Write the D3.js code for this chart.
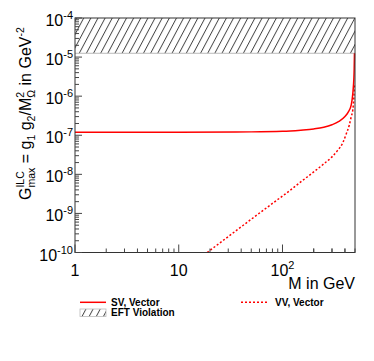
<!DOCTYPE html>
<html><head><meta charset="utf-8">
<script src="https://cdn.jsdelivr.net/npm/d3@7"></script>
<style>body{margin:0;background:#fff}svg{display:block}text{font-family:"Liberation Sans",Arial,Helvetica,sans-serif;white-space:pre}</style>
</head><body>
<script>
// ---- data ----
const svMass = [1, 10, 50, 100, 150, 200, 250, 300, 350, 400, 430, 460, 470, 478, 484, 488, 491, 494];
const svG    = [1.2e-7, 1.2e-7, 1.22e-7, 1.26e-7, 1.35e-7, 1.45e-7, 1.6e-7, 1.85e-7, 2.25e-7, 3.0e-7, 3.9e-7, 6.0e-7, 8.5e-7, 1.3e-6, 2.0e-6, 3.0e-6, 5.0e-6, 1.25e-5];
const vvMass = [18.8, 30, 50, 80, 120, 150, 200, 250, 300, 340, 380, 410, 440, 460, 477, 487, 494];
const vvG    = [1e-10, 2.55e-10, 7.1e-10, 1.8e-9, 4.0e-9, 6.4e-9, 1.15e-8, 1.85e-8, 2.8e-8, 4.1e-8, 6.3e-8, 1.05e-7, 1.8e-7, 3.0e-7, 4.6e-7, 9e-7, 2.1e-6];
const eftBand = [1.25e-5, 1e-4];
const xTickLabels = [{v:1, base:"1", sup:""}, {v:10, base:"10", sup:""}, {v:100, base:"10", sup:"2"}];
const yTickExps = [-4, -5, -6, -7, -8, -9, -10];
const legendLabels = ["SV, Vector", "VV, Vector", "EFT Violation"];

const W = 374, H = 361;
const svg = d3.select("body").append("svg").attr("width", W).attr("height", H);
const L = 75, R = 355, T = 18, B = 252.5;
const x = d3.scaleLog().domain([1, 500]).range([L, R]);
const y = d3.scaleLog().domain([1e-10, 1e-4]).range([B, T]);

// hatch pattern
const defs = svg.append("defs");
const pat = defs.append("pattern").attr("id", "hatch").attr("patternUnits", "userSpaceOnUse")
  .attr("width", 6.3).attr("height", 8).attr("patternTransform", "rotate(28)");
pat.append("line").attr("x1", 0.5).attr("y1", -1).attr("x2", 0.5).attr("y2", 9)
  .attr("stroke", "#333").attr("stroke-width", 0.9);

// EFT band
svg.append("rect").attr("x", L).attr("y", y(eftBand[1])).attr("width", R - L)
  .attr("height", y(eftBand[0]) - y(eftBand[1])).attr("fill", "url(#hatch)");
svg.append("line").attr("x1", L).attr("x2", R).attr("y1", y(eftBand[0])).attr("y2", y(eftBand[0]))
  .attr("stroke", "#bbb").attr("stroke-width", 1);

// curves
const line = d3.line().x(d => x(d[0])).y(d => y(d[1])).curve(d3.curveMonotoneX);
const g = svg.append("g");
g.append("path").attr("d", line(svMass.map((m, i) => [m, svG[i]])))
  .attr("fill", "none").attr("stroke", "#ff0000").attr("stroke-width", 1.5);
g.append("path").attr("d", line(vvMass.map((m, i) => [m, vvG[i]])))
  .attr("fill", "none").attr("stroke", "#ff0000").attr("stroke-width", 1.5).attr("stroke-dasharray", "2,2");

// frame
svg.append("rect").attr("x", L).attr("y", T).attr("width", R - L).attr("height", B - T)
  .attr("fill", "none").attr("stroke", "#333").attr("stroke-width", 1);

// x ticks (inside)
const xt = [];
for (let d = 1; d <= 100; d *= 10) for (let k = 1; k <= 9; k++) { const v = d * k; if (v <= 500) xt.push(v); }
xt.push(200, 300, 400);
svg.append("g").selectAll("line").data(xt).join("line")
  .attr("x1", d => x(d)).attr("x2", d => x(d))
  .attr("y1", B).attr("y2", d => B - ([1, 10, 100].includes(d) ? 8 : 4))
  .attr("stroke", "#444").attr("stroke-width", 1);
// y ticks (inside)
const yt = [];
for (let e = -10; e < -4; e++) for (let k = 1; k <= 9; k++) yt.push(k * Math.pow(10, e));
yt.push(1e-4);
svg.append("g").selectAll("line").data(yt).join("line")
  .attr("y1", d => y(d)).attr("y2", d => y(d))
  .attr("x1", L).attr("x2", d => L + (Math.abs(Math.log10(d) - Math.round(Math.log10(d))) < 1e-9 ? 7 : 4))
  .attr("stroke", "#444").attr("stroke-width", 1);

// y tick labels
yTickExps.forEach(e => {
  const t = svg.append("text").attr("x", 73).attr("y", y(Math.pow(10, e)) + 8)
    .attr("text-anchor", "end").attr("font-size", 16).attr("fill", "#000");
  t.append("tspan").text("10");
  t.append("tspan").attr("font-size", 11).attr("dy", -7).text(String(e));
});
// x tick labels
xTickLabels.forEach(d => {
  const t = svg.append("text").attr("x", x(d.v)).attr("y", 276)
    .attr("text-anchor", "middle").attr("font-size", 16).attr("fill", "#000");
  t.append("tspan").text(d.base);
  if (d.sup) t.append("tspan").attr("font-size", 11).attr("dy", -7).text(d.sup);
});
svg.append("text").attr("x", R).attr("y", 288.5).attr("text-anchor", "end")
  .attr("font-size", 16).text("M in GeV");

// y title, built piecewise in rotated group
const yt_g = svg.append("g").attr("transform", "translate(30.5,200) rotate(-90)");
let cx = 0;
function piece(txt, size, dy) {
  const t = yt_g.append("text").attr("x", cx).attr("y", dy).attr("font-size", size).text(txt);
  return t.node().getComputedTextLength();
}
function seq(txt, size, dy) { cx += piece(txt, size, dy); }
function stack(sup, sub) {
  const w1 = piece(sup, 10.5, -7), w2 = piece(sub, 10.5, 4);
  cx += Math.max(w1, w2);
}
seq("G", 16, 0);
stack("ILC", "max");
seq("\u00a0=\u00a0g", 16, 0);
seq("1", 10.5, 4);
seq("\u00a0g", 16, 0);
seq("2", 10.5, 4);
seq("/M", 16, 0);
stack("2", "\u03a9");
seq("\u00a0in GeV", 16, 0);
seq("-2", 10.5, -7);

// legend
const lg = svg.append("g");
lg.append("line").attr("x1", 80).attr("x2", 106).attr("y1", 302.3).attr("y2", 302.3)
  .attr("stroke", "#ff0000").attr("stroke-width", 1.5);
lg.append("text").attr("x", 111).attr("y", 305.7).attr("font-size", 10).attr("font-weight", "bold").text(legendLabels[0]);
lg.append("line").attr("x1", 241).attr("x2", 267).attr("y1", 302.3).attr("y2", 302.3)
  .attr("stroke", "#ff0000").attr("stroke-width", 1.5).attr("stroke-dasharray", "2,2");
lg.append("text").attr("x", 275).attr("y", 305.7).attr("font-size", 10).attr("font-weight", "bold").text(legendLabels[1]);
lg.append("rect").attr("x", 80).attr("y", 309).attr("width", 26).attr("height", 7.5)
  .attr("fill", "url(#hatch)").attr("stroke", "#bbb").attr("stroke-width", 0.8);
lg.append("text").attr("x", 111).attr("y", 316).attr("font-size", 10).attr("font-weight", "bold").text(legendLabels[2]);
</script>
</body></html>
